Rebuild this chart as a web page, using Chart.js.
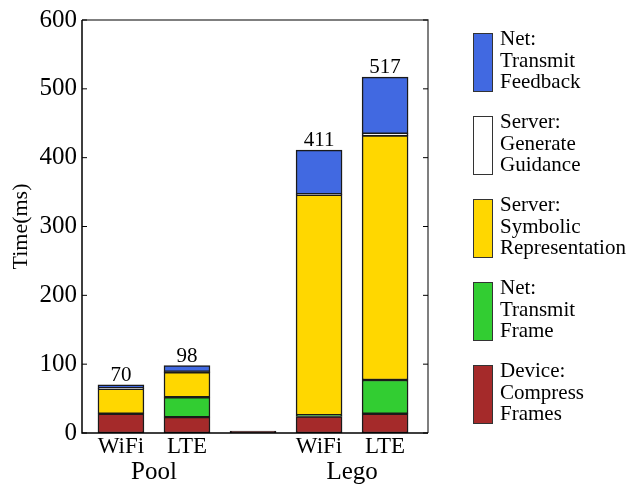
<!DOCTYPE html>
<html>
<head>
<meta charset="utf-8">
<script src="https://cdn.jsdelivr.net/npm/chart.js@4.4.1/dist/chart.umd.min.js"></script>
<style>
    html, body { margin: 0; padding: 0; background: #fff; }
    #wrap { position: relative; width: 628px; height: 487px; }
    #chart { position: absolute; left: 0; top: 0; }
    .legend-item { position: absolute; left: 473px; }
    .legend-box { position: absolute; left: 0; top: 0; width: 20px; height: 59px; box-sizing: border-box; border: 1.5px solid #333; }
    .legend-text { position: absolute; left: 27px; top: -5px; font-family: "Liberation Serif", "Times New Roman", serif; font-size: 21px; line-height: 21.5px; color: #000; white-space: nowrap; }
</style>
</head>
<body>
<div id="wrap">
    <canvas id="chart" width="628" height="487"></canvas>
    <div id="legend"></div>
</div>
<script>
// Categories (empty slot separates the two groups)
const categories = ['WiFi', 'LTE', '', 'WiFi', 'LTE'];
const groups = ['Pool', 'Lego'];
const groupCenters = [0.5, 3.5];

// Stacked components, bottom to top (ms)
const deviceCompress = [28, 23, 0, 24, 28];
const netFrame = [0, 29, 0, 2, 49];
const serverSymbolic = [36, 36, 0, 320, 355];
const serverGuidance = [1, 1, 0, 1, 3];
const netFeedback = [5, 9, 0, 64, 82];

const yTicks = [0, 100, 200, 300, 400, 500, 600];

const series = [
    { label: 'Device: Compress Frames', lines: ['Device:', 'Compress', 'Frames'], data: deviceCompress, color: '#A52A2A', minBar: 2 },
    { label: 'Net: Transmit Frame', lines: ['Net:', 'Transmit', 'Frame'], data: netFrame, color: '#32CD32' },
    { label: 'Server: Symbolic Representation', lines: ['Server:', 'Symbolic', 'Representation'], data: serverSymbolic, color: '#FFD700' },
    { label: 'Server: Generate Guidance', lines: ['Server:', 'Generate', 'Guidance'], data: serverGuidance, color: '#FFFFFF' },
    { label: 'Net: Transmit Feedback', lines: ['Net:', 'Transmit', 'Feedback'], data: netFeedback, color: '#4169E1' }
];

const totals = categories.map((c, i) => series.reduce((s, d) => s + d.data[i], 0));

const FONT = '"Liberation Serif", "Times New Roman", serif';

// HTML legend, top entry is the top of the stack
const legendEl = document.getElementById('legend');
series.slice().reverse().forEach((s, k) => {
    const item = document.createElement('div');
    item.className = 'legend-item';
    item.style.top = (33 + k * 83) + 'px';
    item.innerHTML = `<div class="legend-box" style="background:${s.color}"></div>
        <div class="legend-text">${s.lines.join('<br>')}</div>`;
    legendEl.appendChild(item);
});

// Frame with inward ticks, and total labels above bars
const framePlugin = {
    id: 'frame',
    afterDatasetsDraw(chart) {
        const { ctx, scales } = chart;
        ctx.save();
        ctx.font = '21px ' + FONT;
        ctx.fillStyle = '#000';
        ctx.textAlign = 'center';
        ctx.textBaseline = 'alphabetic';
        totals.forEach((t, i) => {
            if (!t) return;
            ctx.fillText(String(t), scales.x.getPixelForValue(i), scales.y.getPixelForValue(t) - 4);
        });
        ctx.restore();
    },
    afterDraw(chart) {
        const { ctx, chartArea: a, scales } = chart;
        ctx.save();
        ctx.lineWidth = 1.5;
        ctx.strokeStyle = '#555';
        ctx.beginPath();
        ctx.moveTo(a.left, a.top);
        ctx.lineTo(a.right, a.top);
        ctx.lineTo(a.right, a.bottom);
        ctx.stroke();
        ctx.strokeStyle = '#000';
        ctx.beginPath();
        ctx.moveTo(a.left, a.top);
        ctx.lineTo(a.left, a.bottom);
        ctx.lineTo(a.right, a.bottom);
        ctx.stroke();
        ctx.lineWidth = 1;
        yTicks.forEach(v => {
            const y = scales.y.getPixelForValue(v);
            ctx.beginPath();
            ctx.moveTo(a.left, y);
            ctx.lineTo(a.left + 5, y);
            ctx.moveTo(a.right, y);
            ctx.lineTo(a.right - 5, y);
            ctx.stroke();
        });
        ctx.restore();
    }
};

new Chart(document.getElementById('chart'), {
    type: 'bar',
    data: {
        datasets: series.map(s => ({
            label: s.label,
            data: s.data.map((v, i) => ({ x: i, y: v })),
            backgroundColor: s.color,
            borderColor: '#1a1a1a',
            borderWidth: 1.5,
            borderSkipped: false,
            barThickness: 46,
            minBarLength: s.minBar || 0
        }))
    },
    options: {
        responsive: false,
        animation: false,
        layout: { padding: { left: 0, top: 18, right: 200, bottom: 0 } },
        plugins: {
            legend: { display: false },
            tooltip: { enabled: false }
        },
        scales: {
            x: {
                type: 'linear',
                stacked: true,
                offset: false,
                min: -0.59,
                max: 4.65,
                grid: { display: false, drawTicks: false, offset: false },
                border: { display: false },
                afterBuildTicks: scale => {
                    scale.ticks = categories
                        .map((c, i) => ({ value: i }))
                        .filter(t => categories[t.value] !== '');
                },
                afterFit: scale => { scale.height = 24; },
                ticks: {
                    padding: 0,
                    autoSkip: false,
                    maxRotation: 0,
                    color: '#000',
                    font: { family: FONT, size: 23 },
                    callback: v => categories[v]
                }
            },
            xg: {
                type: 'linear',
                position: 'bottom',
                offset: false,
                min: -0.59,
                max: 4.65,
                grid: { display: false, drawTicks: false, offset: false },
                border: { display: false },
                afterBuildTicks: scale => {
                    scale.ticks = groupCenters.map(v => ({ value: v }));
                },
                afterFit: scale => { scale.height = 30; },
                ticks: {
                    padding: 0,
                    autoSkip: false,
                    maxRotation: 0,
                    color: '#000',
                    font: { family: FONT, size: 25 },
                    callback: v => groups[groupCenters.indexOf(v)]
                }
            },
            y: {
                stacked: true,
                min: 0,
                max: 600,
                grid: { display: false, drawTicks: false },
                border: { display: false },
                afterBuildTicks: scale => {
                    scale.ticks = yTicks.map(v => ({ value: v }));
                },
                afterFit: scale => { scale.width = 82; },
                ticks: {
                    padding: 5,
                    color: '#000',
                    font: { family: FONT, size: 25 }
                },
                title: {
                    display: true,
                    text: 'Time(ms)',
                    color: '#000',
                    font: { family: FONT, size: 22 },
                    padding: { top: 8, bottom: 0 }
                }
            }
        }
    },
    plugins: [framePlugin]
});
</script>
</body>
</html>
